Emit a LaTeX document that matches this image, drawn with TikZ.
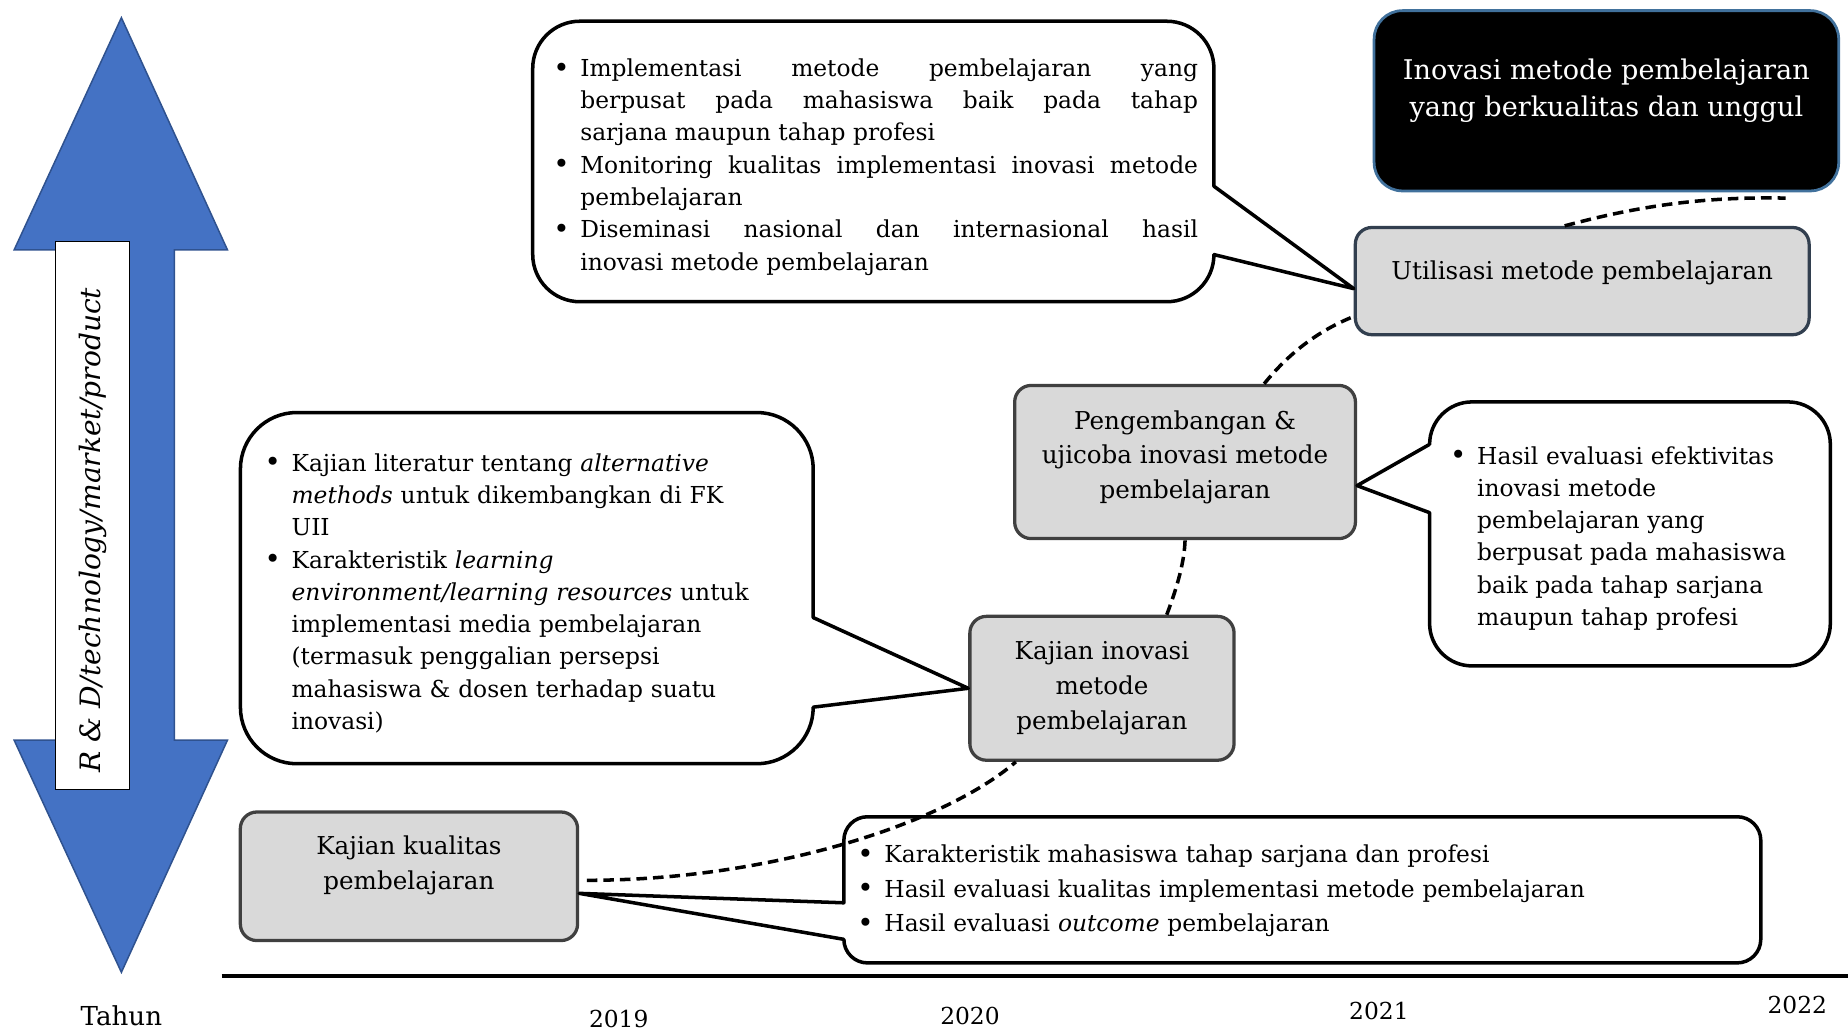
\documentclass[tikz,border=0pt]{standalone}
\usepackage{fontspec}
\setmainfont{DejaVu Serif}
\definecolor{arrowblue}{HTML}{4472C4}
\definecolor{arrowedge}{HTML}{2F528F}
\definecolor{boxgray}{HTML}{D9D9D9}
\definecolor{boxedge}{HTML}{404040}
\definecolor{slateedge}{HTML}{323F4F}
\definecolor{goaledge}{HTML}{41719C}
% one bullet item with hanging indent
\newcommand{\butir}[1]{\par\noindent\hangindent=15pt\hangafter=1\makebox[15pt][c]{\raisebox{-0.3pt}{\fontsize{11}{12}\selectfont\textbullet}}#1\par}
\tikzset{
  tahap/.style={draw=boxedge, fill=boxgray, line width=1.3pt, rounded corners=6.6pt, align=center, inner sep=0pt, font=\fontsize{9.8}{13.8}\selectfont},
  tujuan/.style={draw=goaledge, fill=black, text=white, line width=1.1pt, rounded corners=11.3pt, align=center, inner sep=0pt, font=\fontsize{10.8}{15}\selectfont},
  balon/.style={draw=black, fill=white, line width=1.4pt, line join=round},
  isian/.style={inner sep=0pt, anchor=north west, font=\fontsize{9.3}{12.85}\selectfont},
  alur/.style={line width=1.4pt, dash pattern=on 4.2pt off 2.4pt},
  tahun/.style={font=\fontsize{9.3}{12}\selectfont},
}
\begin{document}
\begin{tikzpicture}[x=0.0165cm, y=-0.0165cm]
  \useasboundingbox (0,0) rectangle (1568,875);
  % double arrow on the left
  \filldraw[fill=arrowblue, draw=arrowedge, line width=0.6pt] (103,15) -- (193,212) -- (148,212) -- (148,628) -- (193,628) -- (103,825) -- (12,628) -- (58,628) -- (58,212) -- (12,212) -- cycle;
  \node[draw=black, fill=white, line width=0.6pt, rotate=90, minimum width=218.3pt, minimum height=29.6pt, inner sep=0pt, font=\itshape\fontsize{11.2}{13}\selectfont] (ranah) at (78.5,437.5) {R \& D/technology/market/product\hspace*{11.7pt}};

  % time axis
  \coordinate (garisawal) at (188,828);
  \coordinate (garisakhir) at (1568,828);
  \draw[line width=1.4pt] (garisawal) -- (garisakhir);
  \node[tahun, font=\fontsize{10.4}{12}\selectfont] (tahun) at (103,862) {Tahun};
  \node[tahun] (th2019) at (525,865) {2019};
  \node[tahun] (th2020) at (823,862) {2020};
  \node[tahun] (th2021) at (1170,858) {2021};
  \node[tahun] (th2022) at (1525,853) {2022};

  % stages
  \node[tahap, minimum width=134.3pt, minimum height=51.2pt, text depth=10.8pt] (kualitas) at (347,743.5) {Kajian kualitas\\pembelajaran};
  \node[tahap, minimum width=105.2pt, minimum height=57.3pt] (inovasi) at (935,584) {Kajian inovasi\\metode\\pembelajaran};
  \node[tahap, minimum width=135.7pt, minimum height=61pt, text depth=6.1pt] (pengembangan) at (1005.5,392) {Pengembangan \&\\ujicoba inovasi metode\\pembelajaran};
  \node[tahap, draw=slateedge, minimum width=180.7pt, minimum height=42.7pt, text depth=8.9pt] (utilisasi) at (1342.5,238.5) {Utilisasi metode pembelajaran};
  \node[tujuan, minimum width=185pt, minimum height=71.8pt, text depth=10.3pt] (luaran) at (1363,85.5) {Inovasi metode pembelajaran\\yang berkualitas dan unggul};

  % callouts
  \draw[balon] (741,18) [rounded corners=18.8pt] -- (1030,18) [sharp corners] -- (1030,158) -- ([yshift=-3pt]utilisasi.west) -- (1030,216) [rounded corners=18.8pt] -- (1030,256) -- (452,256) -- (452,18) -- cycle;
  \node[isian, text width=261pt, align=justify] (isiutil) at (460,37) {\butir{Implementasi metode pembelajaran yang\linebreak berpusat pada mahasiswa baik pada tahap\linebreak sarjana maupun tahap profesi}\butir{Monitoring kualitas implementasi inovasi metode\linebreak pembelajaran}\butir{Diseminasi nasional dan internasional hasil\linebreak inovasi metode pembelajaran}};

  \draw[balon] (447,350) [rounded corners=22.5pt] -- (690,350) [sharp corners] -- (690,524) -- (inovasi.west) -- (690,600) [rounded corners=22.5pt] -- (690,648) -- (204,648) -- (204,350) -- cycle;
  \node[isian, text width=220.7pt, align=left] (isiinovasi) at (215,372) {\butir{Kajian literatur tentang \emph{alternative}\newline \emph{methods} untuk dikembangkan di FK\newline UII}\butir{Karakteristik \emph{learning}\newline \emph{environment/learning resources} untuk\newline implementasi media pembelajaran\newline (termasuk penggalian persepsi\newline mahasiswa \& dosen terhadap suatu\newline inovasi)}};

  \draw[balon] (1383,341) [rounded corners=16.9pt] -- (1553,341) -- (1553,565) -- (1213,565) [sharp corners] -- (1213,435) -- ([yshift=-9.4pt]pengembangan.east) -- (1213,377) [rounded corners=16.9pt] -- (1213,341) -- cycle;
  \node[isian, text width=154.9pt, align=left] (isipengembangan) at (1221,366) {\butir{Hasil evaluasi efektivitas\newline inovasi metode\newline pembelajaran yang\newline berpusat pada mahasiswa\newline baik pada tahap sarjana\newline maupun tahap profesi}};

  \draw[balon] (1105,693) [rounded corners=9.4pt] -- (1494,693) -- (1494,817) -- (716,817) [sharp corners] -- (716,797) -- ([yshift=-6.8pt]kualitas.east) -- (716,766) [rounded corners=9.4pt] -- (716,693) -- cycle;
  \node[isian, text width=362.4pt, align=left, font=\fontsize{9.3}{13.8}\selectfont] (isikualitas) at (718,702) {\butir{Karakteristik mahasiswa tahap sarjana dan profesi}\butir{Hasil evaluasi kualitas implementasi metode pembelajaran}\butir{Hasil evaluasi \emph{outcome} pembelajaran}};

  % dashed path between stages
  \draw[alur] ([xshift=3pt, yshift=-1.6pt]kualitas.east) .. controls (650,747) and (800,700) .. ([xshift=-34.3pt]inovasi.south);
  \draw[alur] ([xshift=25.8pt]inovasi.north) .. controls (1000,495) and (1005,475) .. (pengembangan.south);
  \draw[alur] ([xshift=31.5pt]pengembangan.north) .. controls (1095,298) and (1120,280) .. ([yshift=-14.1pt]utilisasi.west);
  \draw[alur] ([xshift=-7pt]utilisasi.north) .. controls (1400,172) and (1455,167) .. ([xshift=71.4pt, yshift=-2.3pt]luaran.south);
\end{tikzpicture}
\end{document}
